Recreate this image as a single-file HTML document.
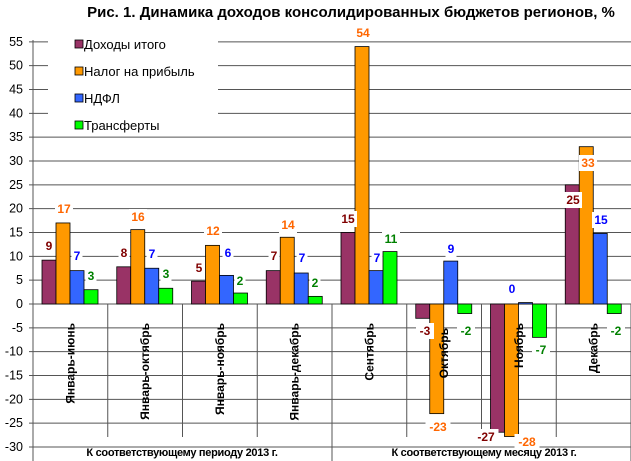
<!DOCTYPE html>
<html><head><meta charset="utf-8"><style>body{margin:0;background:#fff}svg{display:block}</style></head><body>
<svg width="631" height="461" xmlns="http://www.w3.org/2000/svg" font-family="Liberation Sans, sans-serif">
<rect width="631" height="461" fill="#fff"/>
<text x="351" y="17" font-size="15" font-weight="bold" text-anchor="middle">Рис. 1. Динамика доходов консолидированных бюджетов регионов, %</text>
<g id="grid" stroke="#555" stroke-width="1"></g>
<g id="bars" stroke="#000" stroke-width="0.8"></g>
<g id="lbl" font-size="12" font-weight="bold" text-anchor="middle"></g>
<g id="yl" font-size="12.5" text-anchor="end"></g>
<g id="cat" font-size="12" font-weight="bold" text-anchor="end"></g>
<rect x="48" y="34" width="170" height="100" fill="#fff"/>
<g font-size="13">
<rect x="75" y="40" width="8" height="8" fill="#993366" stroke="#000" stroke-width="0.8"/><text x="84" y="49">Доходы итого</text>
<rect x="75" y="67" width="8" height="8" fill="#FF9900" stroke="#000" stroke-width="0.8"/><text x="84" y="76">Налог на прибыль</text>
<rect x="75" y="94" width="8" height="8" fill="#3366FF" stroke="#000" stroke-width="0.8"/><text x="84" y="103">НДФЛ</text>
<rect x="75" y="121" width="8" height="8" fill="#00FF00" stroke="#000" stroke-width="0.8"/><text x="84" y="130">Трансферты</text>
</g>
<g font-size="11" font-weight="bold" text-anchor="middle" letter-spacing="-0.3">
<text x="182" y="456">К соответствующему периоду 2013 г.</text>
<text x="484" y="456">К соответствующему месяцу 2013 г.</text>
</g>
<script>
var NS="http://www.w3.org/2000/svg";
function el(p,t,a,txt){var e=document.createElementNS(NS,t);for(var k in a)e.setAttribute(k,a[k]);if(txt!==undefined)e.textContent=txt;document.getElementById(p).appendChild(e);return e;}
function Y(v){return 304-v*4.767;}
for(var v=55;v>=-30;v-=5){var y=Y(v);el("grid","line",{x1:29,x2:631,y1:y,y2:y});el("yl","text",{x:23,y:y+4},v);}
el("grid","line",{x1:33,x2:33,y1:40,y2:461});
var cw=74.75;
for(var i=1;i<=8;i++){var x=33+i*cw;el("grid","line",{x1:x,x2:x,y1:304,y2:(i==4||i==8)?461:437});}
var d=[[9.2,17,7,3],[7.8,15.6,7.5,3.3],[4.8,12.3,6,2.3],[7,14,6.5,1.6],[15,54,7,11],[-3,-23,9,-2],[-26.9,-27.8,0.3,-7],[25,33,14.8,-2]];
var col=["#993366","#FF9900","#3366FF","#00FF00"];
for(var i=0;i<8;i++)for(var j=0;j<4;j++){var v=d[i][j],x=33+i*cw+9+j*14;var y1=Y(Math.max(v,0)),y2=Y(Math.min(v,0));el("bars","rect",{x:x,y:y1,width:14,height:Math.max(y2-y1,0.5),fill:col[j]});}
var tc=["#800000","#FF6600","#0000FF","#008000"];
var L=[[[9,49,246],[17,64,209],[7,77,256],[3,91,276]],[[8,124,253],[16,138,217],[7,152,254],[3,166,274]],[[5,199,268],[12,213,231],[6,228,253],[2,240,281]],[[7,274,256],[14,288,225],[7,302,258],[2,315,283]],[[15,348,219],[54,363,33],[7,377,258],[11,391,239]],[[-3,425,331],[-23,438,427],[9,451,249],[-2,466,331]],[[-27,486,437],[-28,527,442],[0,512,289],[-7,541,350]],[[25,573,200],[33,588,163],[15,601,220],[-2,616,331]]];
for(var i=0;i<8;i++)for(var j=0;j<4;j++){var l=L[i][j];var w=String(l[0]).length*7+4;el("lbl","rect",{x:l[1]-w/2,y:l[2]-8,width:w,height:16,fill:"#fff"});el("lbl","text",{x:l[1],y:l[2]+4,fill:tc[j]},l[0]);}
var cn=["Январь-июнь","Январь-октябрь","Январь-ноябрь","Январь-декабрь","Сентябрь","Октябрь","Ноябрь","Декабрь"];
for(var i=0;i<8;i++){var cx=33+i*cw+cw/2+4;var yy=(i==5?328:323);el("cat","text",{x:0,y:0,transform:"translate("+cx+","+yy+") rotate(-90)"},cn[i]);}
</script>
</svg>
</body></html>
